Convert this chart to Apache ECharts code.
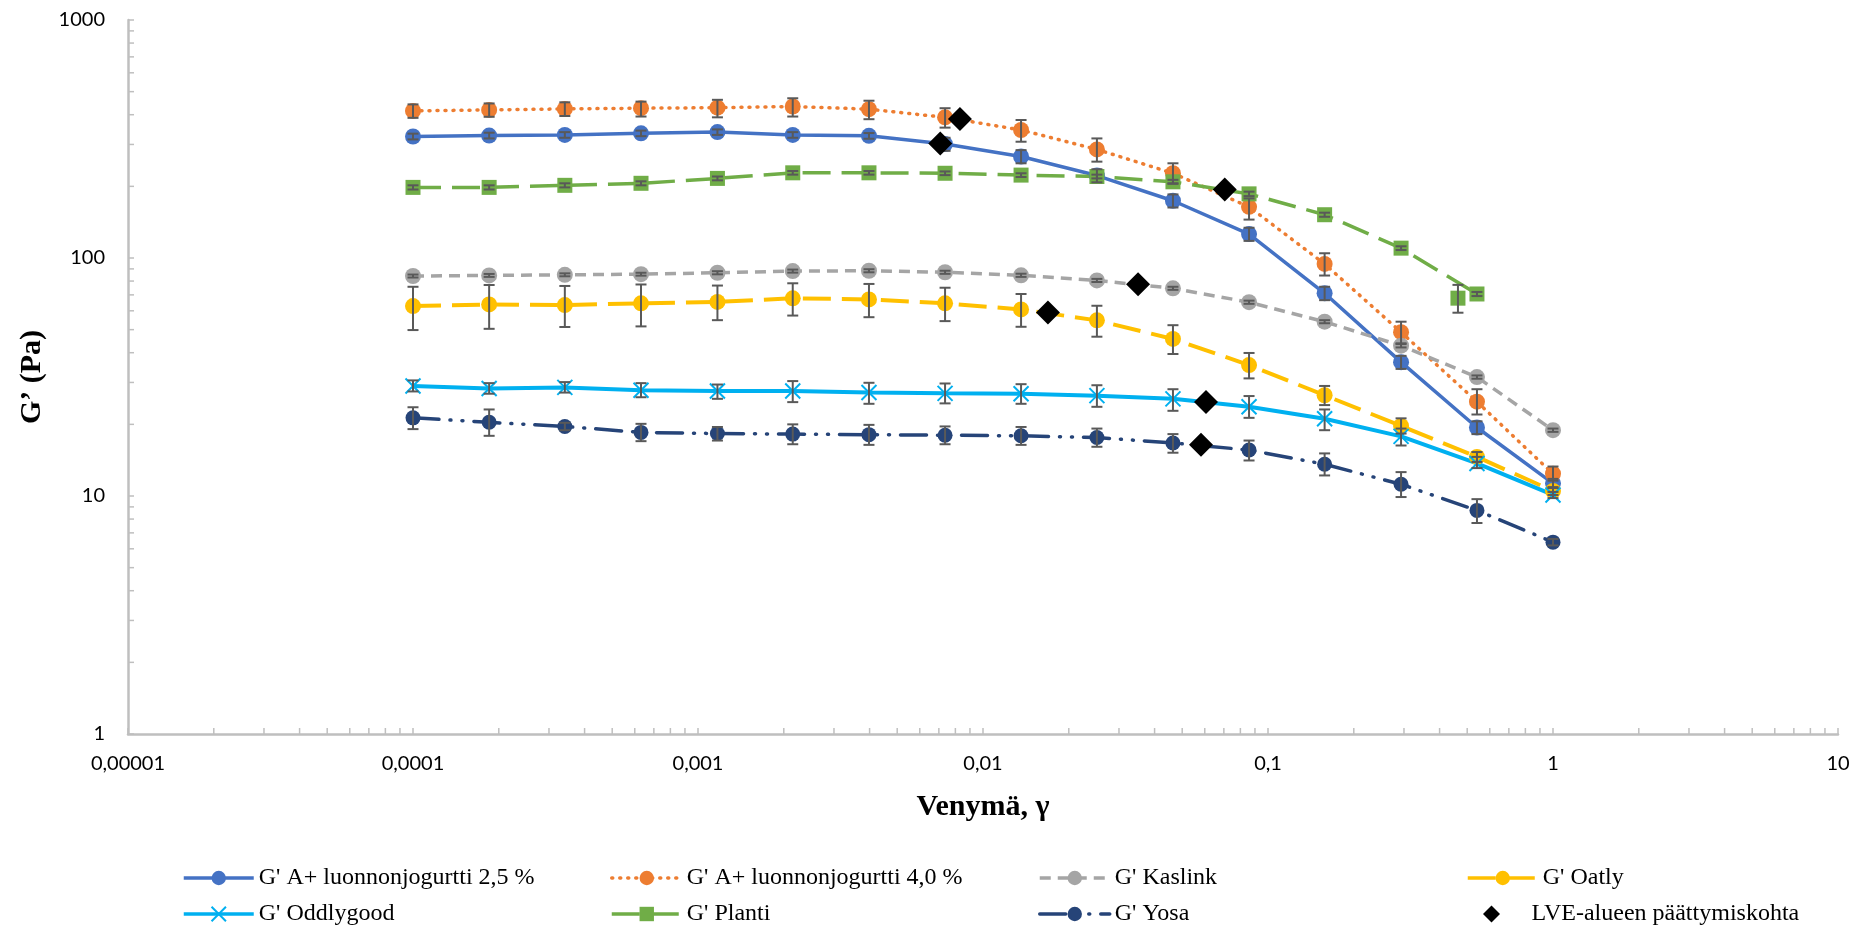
<!DOCTYPE html>
<html>
<head>
<meta charset="utf-8">
<script src="https://cdn.jsdelivr.net/npm/echarts@6/dist/echarts.min.js"></script>
<style>
html,body{margin:0;padding:0;background:#fff;}
#chart{width:1863px;height:926px;}
</style>
</head>
<body>
<div id="chart"></div>
<script>
// ---- data ----
const xVals = [0.0001, 0.000185, 0.000341, 0.000631, 0.00117, 0.00215, 0.00398, 0.00736, 0.0136, 0.0251, 0.0464, 0.0858, 0.158, 0.293, 0.541, 1];
const xTickLabels = ['0,00001', '0,0001', '0,001', '0,01', '0,1', '1', '10'];
const yTickLabels = ['1', '10', '100', '1000'];

const aPlus25   = [324, 327, 329, 334, 338, 329, 326, 301, 267, 222, 174, 126, 71.1, 36.5, 19.4, 11.3];
const aPlus25Lo = [315, 318, 320, 325, 329, 320, 317, 282, 250, 208, 163, 118, 66.5, 34.2, 18.2, 10.8];
const aPlus25Hi = [333, 336, 338, 343, 347, 338, 335, 320, 284, 236, 185, 134, 75.7, 38.8, 20.6, 11.8];

const aPlus40   = [415, 419, 423, 426, 428, 433, 422, 390, 345, 286, 227, 164, 94.4, 48.8, 24.9, 12.4];
const aPlus40Lo = [388, 392, 395, 393, 390, 393, 383, 353, 308, 254, 206, 145, 84.4, 43.8, 22.0, 11.6];
const aPlus40Hi = [442, 446, 451, 454, 462, 469, 458, 426, 380, 318, 250, 178, 104.7, 54.0, 28.1, 13.3];

const kaslink   = [84, 84.5, 85, 85.5, 86.7, 88.1, 88.4, 87.1, 84.6, 80.5, 74.6, 65.2, 54, 42.8, 31.6, 18.9];
const kaslinkLo = [82.8, 83.3, 83.8, 84.3, 85.4, 86.8, 87.1, 85.8, 83.3, 79.3, 73.5, 64.2, 53.2, 42.1, 31.1, 18.6];
const kaslinkHi = [85.2, 85.7, 86.2, 86.7, 88.0, 89.4, 89.7, 88.4, 85.9, 81.7, 75.7, 66.2, 54.8, 43.5, 32.1, 19.2];

const oatly   = [62.8, 63.8, 63.4, 64.5, 65.4, 67.7, 67, 64.5, 60.8, 54.7, 45.7, 35.5, 26.5, 19.7, 14.6, 10.5];
const oatlyLo = [49.8, 50.4, 51.3, 51.6, 54.8, 57.3, 56.4, 54.3, 51.4, 46.7, 39.5, 31.2, 24.1, 18.3, 13.9, 10.1];
const oatlyHi = [75.7, 77.0, 76.3, 77.4, 76.6, 78.3, 77.8, 75.0, 70.6, 63.0, 52.2, 39.9, 29.0, 21.2, 15.3, 10.9];

const oddlygood   = [29.0, 28.3, 28.6, 27.8, 27.6, 27.6, 27.2, 27.0, 26.9, 26.4, 25.6, 23.7, 21.1, 17.8, 13.7, 10.1];
const oddlygoodLo = [27.5, 26.9, 27.2, 26.0, 25.6, 24.8, 24.4, 24.5, 24.4, 23.7, 22.8, 21.3, 18.9, 16.3, 13.1, 9.8];
const oddlygoodHi = [30.6, 29.8, 30.1, 29.8, 29.4, 30.4, 29.9, 29.7, 29.5, 29.2, 28.1, 26.3, 23.1, 19.2, 14.6, 10.4];

const planti   = [198, 198, 202, 206, 216, 228, 228, 227, 223, 220, 209, 186, 152, 110, 70.6];
const plantiLo = [194, 194, 198, 202, 212, 224, 224, 223, 219, 216, 205, 182, 149, 108, 69.2];
const plantiHi = [202, 202, 206, 210, 220, 232, 232, 231, 227, 224, 213, 190, 155, 112, 72.0];
const plantiExtraX  = [0.464];
const plantiExtra   = [67.8];
const plantiExtraLo = [58.9];
const plantiExtraHi = [77.1];

const yosa   = [21.3, 20.4, 19.6, 18.5, 18.3, 18.2, 18.1, 18.0, 17.9, 17.6, 16.7, 15.6, 13.6, 11.2, 8.7, 6.4];
const yosaLo = [19.1, 17.9, 18.9, 17.0, 17.1, 16.5, 16.4, 16.5, 16.4, 16.1, 15.2, 14.1, 12.2, 9.9, 7.7, 6.2];
const yosaHi = [23.6, 23.1, 20.3, 20.1, 19.5, 20.0, 19.9, 19.6, 19.5, 19.2, 18.2, 17.1, 15.1, 12.6, 9.7, 6.6];

const lveX = [0.00708, 0.0083, 0.0705, 0.035, 0.0169, 0.0606, 0.0582];
const lveY = [303, 384, 194, 77.5, 59, 24.8, 16.4];

const names = {
  a25: "G' A+ luonnonjogurtti 2,5 %",
  a40: "G' A+ luonnonjogurtti 4,0 %",
  kas: "G' Kaslink",
  oat: "G' Oatly",
  odd: "G' Oddlygood",
  pla: "G' Planti",
  yos: "G' Yosa",
  lve: "LVE-alueen päättymiskohta"
};

// ---- helpers ----
function pairs(xs, ys) { return ys.map((v, i) => [xs[i], v]); }
function errData(xs, lo, hi) { return lo.map((l, i) => [xs[i], l, hi[i]]); }

const ERR_COLOR = '#595959';
function errorSeries(data) {
  return {
    type: 'custom',
    silent: true,
    z: 3,
    data: data,
    encode: { x: 0, y: [1, 2] },
    renderItem: function (params, api) {
      const x = api.value(0);
      const p1 = api.coord([x, api.value(1)]);
      const p2 = api.coord([x, api.value(2)]);
      const w = 5.5;
      const st = { stroke: ERR_COLOR, lineWidth: 2 };
      return {
        type: 'group',
        children: [
          { type: 'line', shape: { x1: p1[0], y1: p1[1], x2: p2[0], y2: p2[1] }, style: st },
          { type: 'line', shape: { x1: p1[0] - w, y1: p1[1], x2: p1[0] + w, y2: p1[1] }, style: st },
          { type: 'line', shape: { x1: p2[0] - w, y1: p2[1], x2: p2[0] + w, y2: p2[1] }, style: st }
        ]
      };
    }
  };
}

// minor tick positions of the log axes (axis decoration, not data)
const xMinor = [];
for (let d = -5; d <= 0; d++) for (let m = 2; m <= 9; m++) xMinor.push([m * Math.pow(10, d), 1]);
const yMinor = [];
for (let d = 0; d <= 2; d++) for (let m = 2; m <= 9; m++) yMinor.push([0.00001, m * Math.pow(10, d)]);

const AXIS_COLOR = '#bfbfbf';
const crossPath = 'path://M0,0L10,10M10,0L0,10';

const lineBase = { type: 'line', showSymbol: true, symbolSize: 16, z: 2 };

const legendText = { fontFamily: 'Liberation Serif', fontSize: 24, color: '#000' };
function legendAt(left, top, name, extra) {
  return Object.assign({ left: left, top: top, orient: 'horizontal', itemWidth: 70, itemHeight: 18,
    textStyle: legendText, data: [name], selectedMode: false,
    lineStyle: { width: 3.5 } }, extra || {});
}

const option = {
  animation: false,
  backgroundColor: '#ffffff',
  grid: { left: 128, right: 25, top: 20, bottom: 192 },
  xAxis: {
    type: 'log', logBase: 10, min: 0.00001, max: 10,
    name: 'Venymä, γ', nameLocation: 'middle', nameGap: 58,
    nameTextStyle: { fontFamily: 'Liberation Serif', fontWeight: 'bold', fontSize: 30, color: '#000' },
    axisLine: { lineStyle: { color: AXIS_COLOR, width: 2.5 } },
    axisTick: { inside: true, length: 6, lineStyle: { color: AXIS_COLOR, width: 1.5 } },
    splitLine: { show: false },
    axisLabel: {
      margin: 20, fontFamily: 'Lato', fontSize: 20, color: '#000',
      formatter: function (v) { return xTickLabels[Math.round(Math.log10(v)) + 5]; }
    }
  },
  yAxis: {
    type: 'log', logBase: 10, min: 1, max: 1000,
    name: 'G’ (Pa)', nameLocation: 'middle', nameGap: 74, nameRotate: 90,
    nameTextStyle: { fontFamily: 'Liberation Serif', fontWeight: 'bold', fontSize: 30, color: '#000' },
    axisLine: { show: true, lineStyle: { color: AXIS_COLOR, width: 2.5 } },
    axisTick: { show: true, inside: true, length: 6, lineStyle: { color: AXIS_COLOR, width: 1.5 } },
    splitLine: { show: false },
    axisLabel: {
      margin: 23, fontFamily: 'Lato', fontSize: 20, color: '#000',
      formatter: function (v) { return yTickLabels[Math.round(Math.log10(v))]; }
    }
  },
  legend: [
    legendAt(177, 861, names.a25),
    legendAt(605, 861, names.a40),
    legendAt(1033, 861, names.kas),
    legendAt(1461, 861, names.oat),
    legendAt(177, 897, names.odd),
    legendAt(605, 897, names.pla),
    legendAt(1033, 897, names.yos),
    legendAt(1478, 897, names.lve, { itemHeight: 17, symbolKeepAspect: true,
      data: [{ name: names.lve, icon: 'path://M7,0L14,7L7,14L0,7Z' }] })
  ],
  series: [
    // minor ticks
    { type: 'custom', silent: true, z: 1, data: xMinor, encode: { x: 0, y: 1 },
      renderItem: function (params, api) {
        const p = api.coord([api.value(0), api.value(1)]);
        return { type: 'line', shape: { x1: p[0], y1: p[1], x2: p[0], y2: p[1] - 6 }, style: { stroke: AXIS_COLOR, lineWidth: 1.5 } };
      } },
    { type: 'custom', silent: true, z: 1, data: yMinor, encode: { x: 0, y: 1 },
      renderItem: function (params, api) {
        const p = api.coord([api.value(0), api.value(1)]);
        return { type: 'line', shape: { x1: p[0], y1: p[1], x2: p[0] + 6, y2: p[1] }, style: { stroke: AXIS_COLOR, lineWidth: 1.5 } };
      } },

    Object.assign({}, lineBase, { name: names.a25, data: pairs(xVals, aPlus25), symbol: 'circle',
      itemStyle: { color: '#4472C4' }, lineStyle: { color: '#4472C4', width: 3.5 } }),
    Object.assign({}, lineBase, { name: names.a40, data: pairs(xVals, aPlus40), symbol: 'circle',
      itemStyle: { color: '#ED7D31' }, lineStyle: { color: '#ED7D31', width: 3.5, type: [1, 7], cap: 'round' } }),
    Object.assign({}, lineBase, { name: names.kas, data: pairs(xVals, kaslink), symbol: 'circle',
      itemStyle: { color: '#A5A5A5' }, lineStyle: { color: '#A5A5A5', width: 3.5, type: [11, 7] } }),
    Object.assign({}, lineBase, { name: names.oat, data: pairs(xVals, oatly), symbol: 'circle',
      itemStyle: { color: '#FFC000' }, lineStyle: { color: '#FFC000', width: 4, type: [28, 11] } }),
    Object.assign({}, lineBase, { name: names.odd, data: pairs(xVals, oddlygood), symbol: crossPath, symbolSize: 15,
      itemStyle: { color: '#00B0F0', borderColor: '#00B0F0', borderWidth: 2 }, lineStyle: { color: '#00B0F0', width: 4 } }),
    Object.assign({}, lineBase, { name: names.pla, data: pairs(xVals, planti), symbol: 'rect', symbolSize: 15,
      itemStyle: { color: '#70AD47' }, lineStyle: { color: '#70AD47', width: 3.5, type: [28, 11] } }),
    { type: 'scatter', name: 'Planti (erillinen)', data: pairs(plantiExtraX, plantiExtra), symbol: 'rect', symbolSize: 15,
      itemStyle: { color: '#70AD47', opacity: 1 }, z: 2 },
    Object.assign({}, lineBase, { name: names.yos, data: pairs(xVals, yosa), symbol: 'circle', symbolSize: 15,
      itemStyle: { color: '#264478' }, lineStyle: { color: '#264478', width: 3.5, type: [26, 11, 1, 11, 1, 11], cap: 'round' } }),

    errorSeries(errData(xVals, aPlus25Lo, aPlus25Hi)),
    errorSeries(errData(xVals, aPlus40Lo, aPlus40Hi)),
    errorSeries(errData(xVals, kaslinkLo, kaslinkHi)),
    errorSeries(errData(xVals, oatlyLo, oatlyHi)),
    errorSeries(errData(xVals, oddlygoodLo, oddlygoodHi)),
    errorSeries(errData(xVals, plantiLo, plantiHi)),
    errorSeries(errData(plantiExtraX, plantiExtraLo, plantiExtraHi)),
    errorSeries(errData(xVals, yosaLo, yosaHi)),

    { type: 'scatter', name: names.lve, data: pairs(lveX, lveY), symbol: 'diamond', symbolSize: 24,
      itemStyle: { color: '#000000', opacity: 1 }, z: 5 }
  ]
};

const chart = echarts.init(document.getElementById('chart'), null, { renderer: 'canvas' });
chart.setOption(option);
</script>
</body>
</html>
